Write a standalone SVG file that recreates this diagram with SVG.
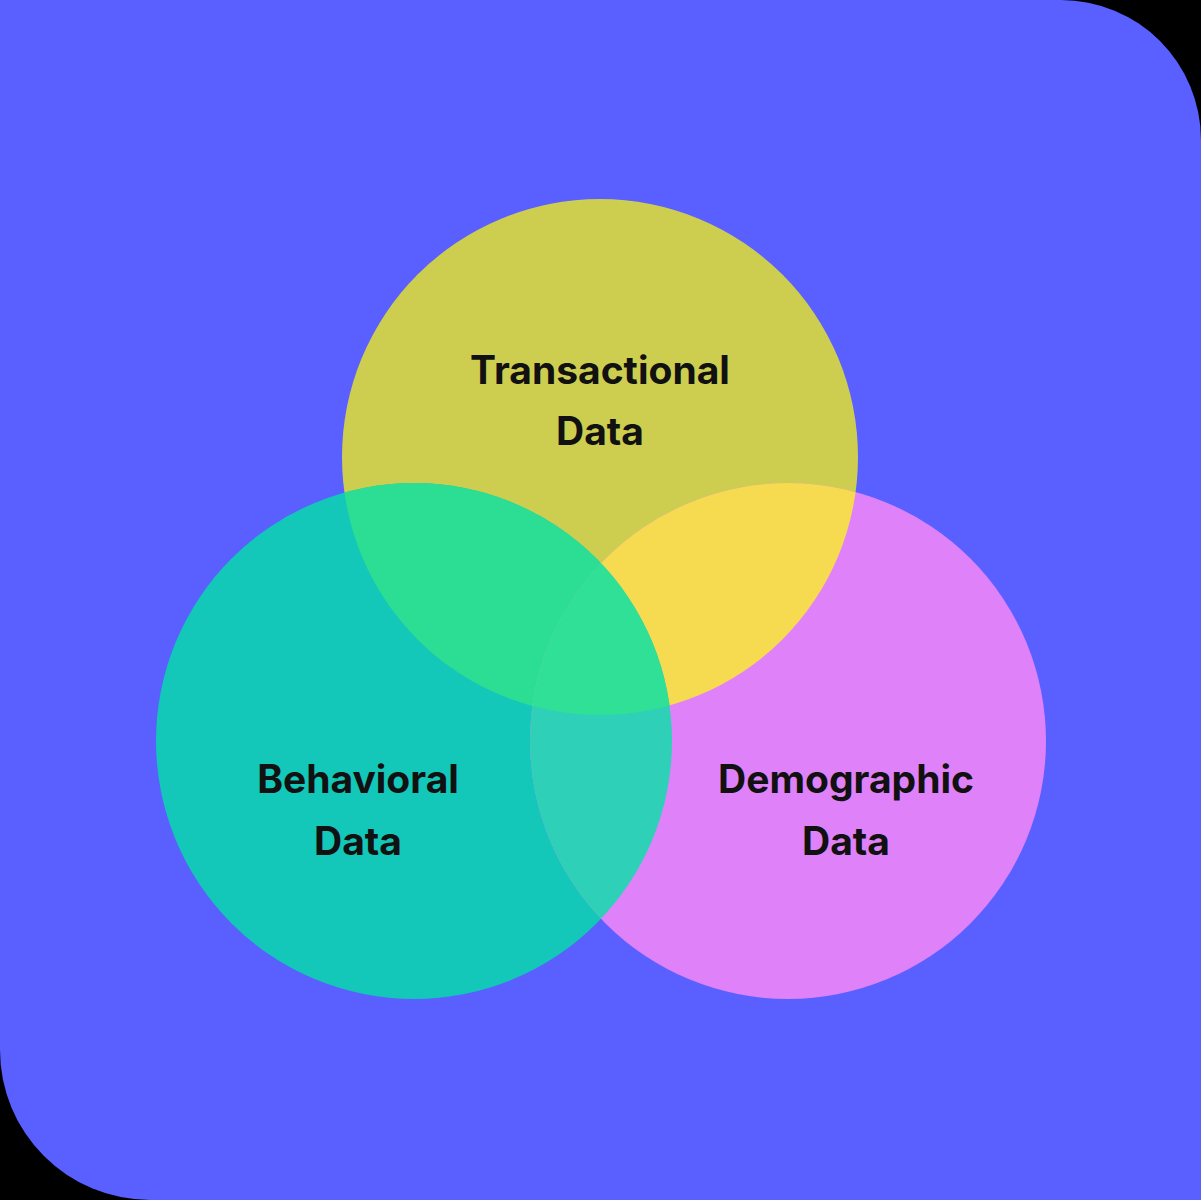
<svg xmlns="http://www.w3.org/2000/svg" width="1201" height="1200" viewBox="0 0 1201 1200">
<defs>
<style>
.t{font-family:Inter,"Liberation Sans",sans-serif;font-weight:700;font-size:39px;fill:#111;text-anchor:middle}
</style>
<clipPath id="cT"><circle cx="600" cy="457" r="258"/></clipPath>
<clipPath id="cL"><circle cx="414" cy="741" r="258"/></clipPath>
<clipPath id="cR"><circle cx="788" cy="741" r="258"/></clipPath>
</defs>
<rect width="1201" height="1200" fill="#000"/>
<path d="M0,0 H1061 A140,140 0 0 1 1201,140 V1200 H150 A150,150 0 0 1 0,1050 Z" fill="#5A5FFF"/>
<g id="transactional"><circle cx="600" cy="457" r="258" fill="#CDCE50"/></g>
<g id="behavioral"><circle cx="414" cy="741" r="258" fill="#13C7B9"/></g>
<g id="demographic"><circle cx="788" cy="741" r="258" fill="#DF82F9"/></g>
<g id="overlaps">
<g clip-path="url(#cT)"><circle cx="414" cy="741" r="258" fill="#2CDE94"/><circle cx="788" cy="741" r="258" fill="#F6DA50"/></g>
<g clip-path="url(#cL)"><circle cx="788" cy="741" r="258" fill="#2ED0B8"/></g>
<g clip-path="url(#cL)"><g clip-path="url(#cR)"><circle cx="600" cy="457" r="258" fill="#30E096"/></g></g>
</g>
<text class="t" x="600" y="384">Transactional</text>
<text class="t" x="600" y="445">Data</text>
<text class="t" x="358" y="793">Behavioral</text>
<text class="t" x="358" y="855">Data</text>
<text class="t" x="846" y="793">Demographic</text>
<text class="t" x="846" y="855">Data</text>
</svg>
